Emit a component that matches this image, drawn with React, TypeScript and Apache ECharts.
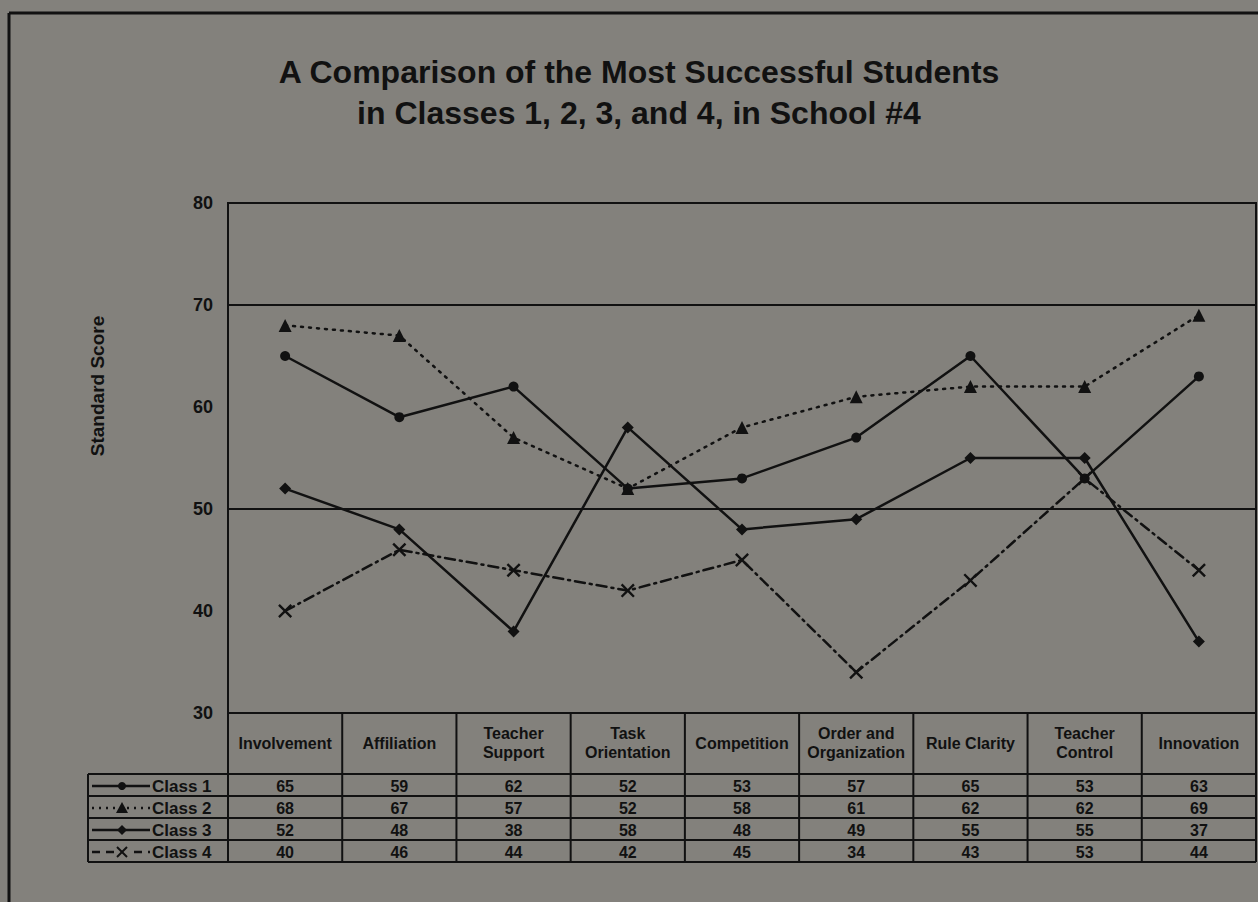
import React, { useEffect, useRef } from "react";
import * as echarts from "echarts";

const categories = [
  "Involvement",
  "Affiliation",
  "Teacher\nSupport",
  "Task\nOrientation",
  "Competition",
  "Order and\nOrganization",
  "Rule Clarity",
  "Teacher\nControl",
  "Innovation",
];
const seriesNames = ["Class 1", "Class 2", "Class 3", "Class 4"];
const class1 = [65, 59, 62, 52, 53, 57, 65, 53, 63];
const class2 = [68, 67, 57, 52, 58, 61, 62, 62, 69];
const class3 = [52, 48, 38, 58, 48, 49, 55, 55, 37];
const class4 = [40, 46, 44, 42, 45, 34, 43, 53, 44];
const referenceLines = [70, 50];
const yMin = 30;
const yMax = 80;
const yStep = 10;

const titleText = "A Comparison of the Most Successful Students\nin Classes 1, 2, 3, and 4, in School #4";
const yAxisTitle = "Standard Score";

const INK = "#111";
const BG = "#83817c";
const FONT = "'Liberation Sans', Arial, sans-serif";
const xMark = "path://M0,1.2 L1.2,0 L5,3.8 L8.8,0 L10,1.2 L6.2,5 L10,8.8 L8.8,10 L5,6.2 L1.2,10 L0,8.8 L3.8,5 Z";

const allSeries = [class1, class2, class3, class4];
const styles = [
  { symbol: "circle", size: 10, dash: "solid" as any },
  { symbol: "triangle", size: 13, dash: [2, 6] as any },
  { symbol: "diamond", size: 12, dash: "solid" as any },
  { symbol: xMark, size: 14, dash: [10, 5, 2, 5] as any },
];

export default function App() {
  const ref = useRef<HTMLDivElement>(null);
  useEffect(() => {
    document.body.style.margin = "0";
    const chart = echarts.init(ref.current!, null, { renderer: "svg" });
    const option: any = {
      animation: false,
      backgroundColor: BG,
      title: {
        text: titleText,
        left: 634,
        top: 46,
        textAlign: "center",
        textStyle: { fontFamily: FONT, fontWeight: "bold", fontSize: 32, lineHeight: 41, color: INK },
      },
      grid: {
        left: 228,
        right: 2,
        top: 203,
        bottom: 902 - 713,
        show: true,
        borderColor: INK,
        borderWidth: 2,
        backgroundColor: "transparent",
      },
      xAxis: {
        type: "category",
        data: categories,
        boundaryGap: true,
        axisLine: { show: false },
        axisTick: { show: false },
        axisLabel: {
          interval: 0,
          margin: 30,
          verticalAlign: "middle",
          fontFamily: FONT,
          fontWeight: "bold",
          fontSize: 16,
          lineHeight: 19,
          color: INK,
        },
      },
      yAxis: {
        type: "value",
        min: yMin,
        max: yMax,
        interval: yStep,
        axisLine: { show: true, lineStyle: { color: INK, width: 2 } },
        axisTick: { show: false },
        splitLine: { show: false },
        axisLabel: { margin: 15, fontFamily: FONT, fontWeight: "bold", fontSize: 18, color: INK },
      },
      series: allSeries.map((d, i) => ({
        name: seriesNames[i],
        type: "line",
        data: d,
        symbol: styles[i].symbol,
        symbolSize: styles[i].size,
        showSymbol: true,
        itemStyle: { color: INK },
        lineStyle: { color: INK, width: 2.5, type: styles[i].dash, cap: "round" },
        z: 3,
        markLine:
          i === 0
            ? {
                silent: true,
                symbol: "none",
                label: { show: false },
                lineStyle: { color: INK, width: 2, type: "solid" },
                data: referenceLines.map((v) => ({ yAxis: v })),
              }
            : undefined,
      })),
    };
    chart.setOption(option);

    // Data table below the plot, positioned from the category axis
    const x0 = chart.convertToPixel({ xAxisIndex: 0 }, 0) as number;
    const x1 = chart.convertToPixel({ xAxisIndex: 0 }, 1) as number;
    const band = x1 - x0;
    const left = x0 - band / 2;
    const right = left + band * categories.length;
    const headTop = chart.convertToPixel({ yAxisIndex: 0 }, yMin) as number;
    const rowTop = headTop + 61;
    const rowH = 22;
    const legL = 88;
    const g: any[] = [];
    const ln = (xa: number, ya: number, xb: number, yb: number, w = 2, dash?: any) => ({
      type: "line",
      shape: { x1: xa, y1: ya, x2: xb, y2: yb },
      style: { stroke: INK, lineWidth: w, lineDash: dash },
      silent: true,
    });
    // y axis title
    g.push({
      type: "text",
      x: 97,
      y: 386,
      rotation: Math.PI / 2,
      style: {
        text: yAxisTitle,
        fill: INK,
        font: `bold 19px ${FONT}`,
        align: "center",
        verticalAlign: "middle",
      },
      silent: true,
    });
    // vertical separators
    for (let c = 0; c <= categories.length; c++) {
      const x = left + band * c;
      g.push(ln(x, headTop, x, rowTop + rowH * 4));
    }
    g.push(ln(legL, rowTop, legL, rowTop + rowH * 4));
    // horizontal lines
    for (let r = 0; r <= 4; r++) {
      const y = rowTop + rowH * r;
      g.push(ln(legL, y, right, y));
    }
    // values
    allSeries.forEach((d, r) => {
      const cy = rowTop + rowH * r + rowH / 2 + 1;
      d.forEach((v, c) => {
        const cx = chart.convertToPixel({ xAxisIndex: 0 }, c) as number;
        g.push({
          type: "text",
          x: cx,
          y: cy,
          style: {
            text: String(v),
            fill: INK,
            font: `bold 16px ${FONT}`,
            align: "center",
            verticalAlign: "middle",
          },
          silent: true,
        });
      });
      // legend sample
      const sx0 = legL + 4;
      const sx1 = legL + 62;
      const mx = legL + 34;
      const st = styles[r];
      if (r === 0 || r === 2) g.push(ln(sx0, cy, sx1, cy, 2.5));
      if (r === 1) g.push(ln(sx0, cy, sx1, cy, 2.5, [2, 5]));
      if (r === 3) g.push(ln(sx0, cy, sx1, cy, 2.5, [8, 6]));
      if (st.symbol === "circle") g.push({ type: "circle", shape: { cx: mx, cy, r: 4 }, style: { fill: INK } });
      if (st.symbol === "triangle")
        g.push({ type: "polygon", shape: { points: [[mx, cy - 6], [mx + 6, cy + 5], [mx - 6, cy + 5]] }, style: { fill: INK } });
      if (st.symbol === "diamond")
        g.push({ type: "polygon", shape: { points: [[mx, cy - 5], [mx + 5, cy], [mx, cy + 5], [mx - 5, cy]] }, style: { fill: INK } });
      if (r === 3) {
        g.push({ type: "rect", shape: { x: mx - 8, y: cy - 8, width: 16, height: 16 }, style: { fill: BG } });
        g.push(ln(mx - 5, cy - 5, mx + 5, cy + 5, 2));
        g.push(ln(mx + 5, cy - 5, mx - 5, cy + 5, 2));
      }
      g.push({
        type: "text",
        x: legL + 64,
        y: cy,
        style: { text: seriesNames[r], fill: INK, font: `bold 17px ${FONT}`, align: "left", verticalAlign: "middle" },
        silent: true,
      });
    });
    // outer frame of the figure
    g.push(ln(9, 13, 1258, 13, 3));
    g.push(ln(9, 13, 9, 902, 3));
    chart.setOption({ graphic: g });

    return () => chart.dispose();
  }, []);
  return <div ref={ref} style={{ width: 1258, height: 902 }} />;
}
